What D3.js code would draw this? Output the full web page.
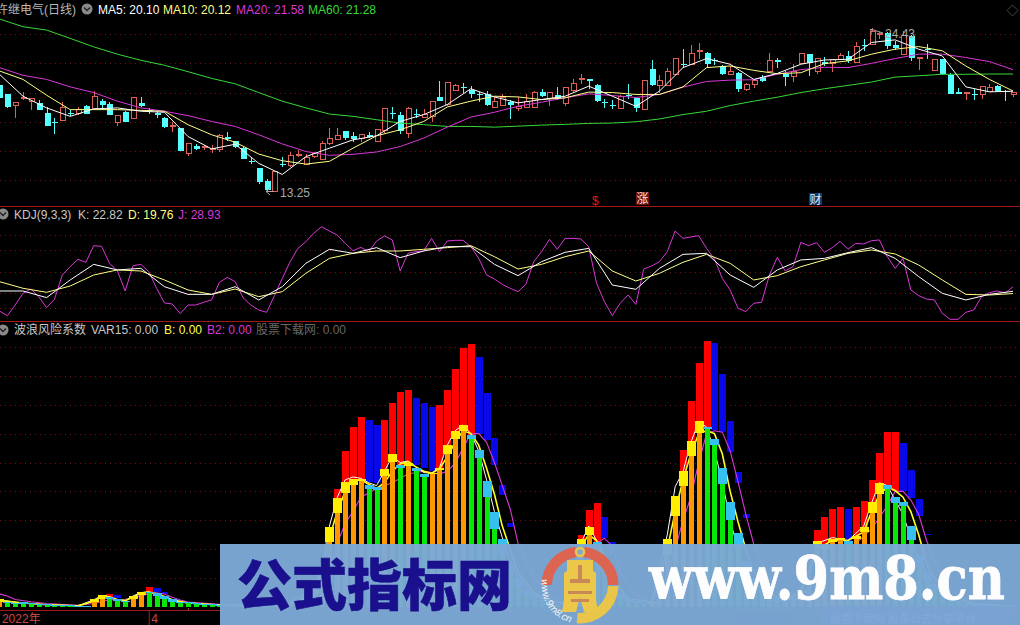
<!DOCTYPE html>
<html>
<head>
<meta charset="utf-8">
<script src="https://cdnjs.cloudflare.com/ajax/libs/d3/7.8.5/d3.min.js"></script>
<style>
html, body { margin: 0; padding: 0; background: #000; overflow: hidden; }
text { font-family: "Liberation Sans", "Noto Sans CJK SC", sans-serif; font-size: 12px; }
</style>
</head>
<body>
<div id="chart"></div>
<script>
// daily candles
var cOpen = [20.50,19.88,19.12,19.62,19.39,19.30,18.61,18.01,18.10,18.63,
18.56,19.12,18.89,19.46,19.23,17.97,18.66,18.24,19.32,18.84,
18.63,18.29,17.71,17.60,15.85,16.36,16.24,16.10,16.08,17.00,
16.66,16.22,15.32,14.81,13.94,13.25,15.11,15.02,15.71,15.11,
15.62,15.44,16.52,16.82,17.39,17.05,16.84,17.12,16.66,17.41,
18.59,18.50,17.23,18.56,18.33,18.38,19.71,19.16,20.17,20.36,
20.20,19.88,19.88,18.98,19.14,19.37,18.91,19.00,18.98,20.06,
19.62,19.85,19.25,20.17,20.89,20.96,20.54,19.37,19.16,18.91,
19.85,19.67,18.84,21.60,20.52,20.52,21.23,21.99,21.90,22.82,
22.75,22.22,21.85,21.28,21.37,20.22,20.54,21.05,21.46,22.22,
21.28,21.09,22.01,22.68,21.44,22.13,21.97,22.29,22.54,22.06,
23.26,23.33,24.02,24.08,23.26,22.64,23.90,22.36,22.96,21.53,
22.29,21.19,20.08,19.92,19.88,19.85,20.11,20.45,20.11,19.88];
var cClose = [19.67,19.02,19.30,19.69,19.58,18.79,17.69,17.97,19.02,18.59,
18.82,18.56,19.71,19.16,18.47,18.47,18.01,19.65,19.12,18.82,
18.47,17.64,17.78,16.01,16.54,16.17,16.29,16.20,17.05,16.86,
16.31,15.48,15.23,13.87,13.32,14.58,15.07,15.69,15.78,15.55,
15.83,16.54,16.89,17.05,16.89,16.86,17.14,17.00,17.51,18.91,
18.54,17.41,18.91,18.52,18.54,19.37,19.46,20.68,20.50,20.31,
19.94,19.83,19.16,19.42,19.65,19.16,19.07,19.37,20.01,19.74,
20.04,19.60,20.33,20.61,21.00,20.80,19.42,19.30,19.12,19.76,
19.74,18.93,20.82,20.50,20.82,21.44,22.34,21.92,22.68,22.89,
21.97,22.18,21.28,21.46,20.22,20.57,20.86,20.80,22.20,22.08,
21.09,21.46,22.68,22.01,22.34,21.97,22.29,22.57,22.18,23.16,
23.21,24.18,24.08,23.19,23.07,23.90,22.38,22.43,22.91,22.29,
21.26,19.94,19.94,20.01,19.83,20.40,20.33,20.11,20.06,20.01];
var cHigh = [20.50,19.88,19.30,20.06,19.58,19.48,19.02,18.27,19.35,18.79,
19.02,19.16,20.15,19.58,19.35,18.47,18.73,19.69,19.71,18.96,
18.73,18.33,17.97,17.60,16.54,16.49,16.45,16.40,17.18,17.32,
16.72,16.26,15.53,14.81,14.08,14.58,15.57,15.97,16.08,15.80,
15.94,16.68,17.57,17.60,17.39,17.32,17.14,17.28,17.51,18.91,
19.02,18.68,19.02,18.91,18.91,19.37,20.77,20.73,20.63,20.68,
20.47,20.04,20.15,19.76,19.94,19.53,19.71,19.94,20.11,20.22,
20.04,20.40,20.40,20.96,21.28,20.96,20.59,19.58,19.53,19.81,
20.63,19.71,20.82,22.22,21.23,21.72,22.34,22.98,23.28,23.39,
22.80,22.41,21.92,21.83,21.42,20.68,20.91,21.23,22.75,22.36,
21.51,21.95,22.68,22.68,22.38,22.47,22.34,22.75,22.84,23.44,
23.67,24.43,24.13,24.13,23.56,24.25,23.95,22.47,23.33,22.34,
22.29,21.37,20.33,20.01,20.22,20.40,20.63,20.56,20.17,20.01];
var cLow = [19.67,18.93,18.24,19.53,18.84,18.79,17.69,17.16,18.10,18.43,
18.45,18.52,18.89,18.84,18.47,17.69,17.97,18.24,19.02,18.56,
18.29,17.60,17.32,16.01,15.67,16.08,16.08,15.90,15.97,16.68,
16.22,15.48,15.11,13.78,13.27,13.25,14.88,14.93,15.57,15.07,
15.53,15.39,16.43,16.77,16.77,16.59,16.63,16.91,16.66,17.23,
18.22,17.18,16.91,18.24,18.24,17.97,19.42,19.12,20.15,20.01,
19.62,19.35,19.07,18.93,19.12,18.22,18.73,18.98,18.93,19.71,
19.12,19.53,19.07,20.08,20.59,20.22,19.35,18.98,18.91,18.89,
19.58,18.66,18.79,20.45,20.01,20.50,21.19,21.76,21.88,22.34,
21.69,21.88,21.23,21.23,20.08,20.13,20.33,20.73,21.42,21.69,
20.45,20.73,21.99,21.14,21.28,21.83,21.42,22.24,22.06,22.01,
22.84,23.28,23.67,22.98,22.93,22.59,22.15,21.55,22.29,21.51,
21.23,19.94,19.90,19.48,19.53,19.60,20.08,20.06,19.42,19.69];

// moving averages, one reading every 3 bars
var maStep = 3;
var ma5 = [21.26,19.76,18.96,18.38,18.89,18.96,18.73,18.66,17.00,16.15,16.47,15.16,14.40,15.62,16.20,
16.77,17.05,18.03,18.50,19.19,20.27,19.71,19.30,19.53,19.76,20.45,19.76,19.07,20.11,21.72,
22.34,21.95,20.91,21.32,21.95,22.24,22.29,23.44,23.62,22.98,22.52,20.40,20.06,20.10];
var ma10 = [21.49,20.91,19.83,18.84,18.84,18.84,18.79,18.73,17.81,17.12,16.61,15.80,15.34,15.11,15.30,
16.20,17.05,17.46,18.03,19.02,19.42,19.76,19.71,19.53,19.65,20.04,20.01,19.88,19.88,20.40,
21.72,21.83,21.53,21.30,21.37,21.99,22.18,22.64,22.98,23.16,22.87,21.83,20.91,20.12];
var ma20 = [21.72,21.19,20.91,20.40,20.01,19.42,18.96,18.73,18.43,18.03,17.69,17.12,16.49,15.97,15.71,
15.78,15.94,16.31,16.89,17.64,18.33,18.66,19.07,19.35,19.65,19.92,19.81,19.67,19.88,20.38,
20.77,20.86,20.89,21.26,21.58,21.74,21.72,22.01,22.34,22.64,22.64,22.41,22.13,21.58];
var ma60 = [25.05,24.52,24.29,23.72,23.14,22.64,22.22,21.88,21.44,20.98,20.61,20.01,19.42,18.96,18.54,
18.38,18.15,17.92,17.81,17.69,17.69,17.64,17.71,17.78,17.83,17.90,17.92,18.01,18.20,18.50,
18.73,19.12,19.42,19.69,20.01,20.27,20.50,20.73,21.07,21.16,21.26,21.26,21.28,21.28];
var priceGrid = [24, 22, 20, 18, 16, 14];

// KDJ panel
var kdjGrid = [0, 20, 50, 80, 100];
var kdjK = [23.3,23.3,14.2,38.4,59.8,52.1,54.3,29.2,18.7,18.7,29.2,11.0,29.2,61.2,80.4,74.9,82.7,69.0,78.1,84.0,84.0,59.8,
44.3,63.5,76.3,81.7,31.5,25.6,54.3,73.5,74.9,45.2,28.3,52.1,65.8,68.0,75.8,82.7,68.0,43.0,20.1,11.0,18.7,22.82];
var kdjD = [36.1,27.0,21.5,30.1,45.2,52.1,50.7,38.4,24.7,18.7,26.0,15.5,22.4,47.5,68.0,74.9,78.1,78.1,80.4,82.7,85.4,70.3,
53.4,59.8,70.3,78.1,50.7,37.0,47.5,62.6,73.5,61.2,38.4,44.3,56.6,65.8,74.9,79.5,74.0,58.9,38.4,18.7,17.8,19.76];
var kdjJ = [-4.1,-10.5,4.1,20.1,26.0,15.5,0.5,11.9,45.2,56.6,66.7,62.6,85.4,84.5,61.2,51.1,23.3,58.0,59.8,49.8,
27.0,6.9,5.5,-7.7,4.1,4.1,7.8,11.0,35.2,42.0,36.1,14.2,4.1,-2.7,-5.9,16.9,40.6,63.5,81.7,90.9,
102.3,111.4,105.5,100.0,88.6,78.5,83.1,77.2,91.8,98.6,93.2,50.7,74.9,77.2,78.1,95.4,77.2,91.8,92.7,92.7,
84.0,68.0,45.2,39.7,32.4,27.0,22.4,32.4,63.5,77.2,94.1,80.4,95.4,95.4,94.5,84.0,33.8,8.7,-10.5,6.4,
17.8,5.0,53.4,57.5,63.5,77.2,105.5,95.4,97.3,99.1,81.7,67.1,40.6,24.7,-0.4,-5.0,6.4,7.8,45.2,69.4,
50.7,56.6,89.9,85.4,89.5,76.3,82.7,91.3,80.4,88.6,87.7,92.2,93.2,70.3,54.3,68.0,24.7,16.9,12.3,11.0,
-7.3,-15.5,-15.5,-5.9,-2.7,15.5,21.0,23.3,20.6,28.93];

// wave risk panel: caps sit on the inner bars, outer bars float behind them
var waveGrid = [10, 20, 30, 40, 50, 60, 70, 80, 90];
var capHigh = [2.6,1.9,1.5,1.6,1.3,1.0,.9,.8,.7,.6,
.5,.4,2.65,4.0,3.34,2.65,2.2,3.9,5.07,5.19,
4.95,3.8,2.65,1.84,1.6,1.3,1.0,.9,.8,.7,
.6,.6,.6,.7,.8,.8,1,1.5,2.5,4,
6,12,27.8,37.7,43.3,44.2,44.2,42.2,41.4,47.8,
52.9,49.1,49.9,48,46,46.3,48.2,55.9,60.8,63,
59.5,54.2,43.6,33,23.5,15,10,6,4,2.5,
1.5,1.2,1.5,12,23.5,27.8,22.6,16,10,5,
3,2,1.5,1.8,12,23.5,38.4,47.1,57.4,64.4,
62.2,58.1,48,36.2,25.6,16,10,6,4,3,
2,3,6,9,22.9,21.6,23.5,23.9,22.8,24.7,
27.7,36.5,42.8,42.2,38.1,36.3,28,18,12,8,
5,3,2,1.4,1,.8,.6,.5,.4,.3];
var capLow = [1.8,1.4,1.2,1.1,1,.8,.7,.6,.5,.4,
.3,.3,1.73,2.9,2.65,1.96,1.6,2.9,4.03,4.73,
3.8,2.65,1.84,1.5,1.27,1.04,.8,.7,.6,.5,
.4,.4,.4,.5,.6,.6,.7,1,1.8,3,
4.5,8,22.4,32.5,39.6,42.2,43.5,40.8,40.5,45.3,
50.2,48,48.9,47.1,45,46.2,47.4,52.9,58.1,60.9,
58,51.4,38.1,27,18,12,7,4,3,1.8,
1,1,1.2,8,21,24.9,20.5,12,7,3,
2,1.5,1,1.2,8,18,31.5,41.9,52.3,60.3,
61.6,56.1,42.6,30.2,20,12,8,5,3,2,
1.6,2.5,5,8,21.8,20,22.5,23.2,21.8,23.5,
25.8,32.5,39.2,40.8,36.1,34.9,23.2,14,9,6,
4,2.5,1.6,1.2,.8,.6,.5,.4,.3,.2];
var capKind = ("y" + "ccccccccccc" + "yy" + "ccc" + "yy" + "ccccccccccc" + "yyyyyyyyyyyyyyyyy" + "cc" + "yy" + "c" + "y" + "cc" +
	"yyyyy" + "cccccccccccc" + "yyyy" + "ccccccc" + "yyyyyyy" + "ccccccccccc" + "yyyyyyy" + "c" + "yyyy" + "ccccccccccccccccc").split("");
var barIdx = [14,15,19,20,21,
43,44,45,46,47,48,49,50,51,52,53,54,55,56,57,58,59,60,61,62,63,64,65,
74,75,76,77,78,
87,88,89,90,91,92,93,94,95,
104,105,106,107,108,109,110,111,112,113,114,115,116,117,118];
var barHigh = [4.5,4.27,6.8,6.46,5.2,
40.8,54,62.3,65.7,64.7,63,64.7,70.5,74.4,75.1,72.4,70.6,69.3,70,75.1,82.4,89.5,91,86.5,74.2,58.6,42.2,29.1,
24.9,33.6,36.1,31.3,22.4,
54.3,71.3,84.4,92,91.4,80.5,64.4,46.8,32.2,
26.6,31.1,33.9,34.6,34,34.6,36.7,43.9,53.4,60.6,60.6,56.9,47.4,37.5,25.3];
var barLow = [3.34,3.0,5.19,5.19,4.5,
37.7,43.3,44.2,44,43.4,42.8,47.8,52.9,49.1,49.9,49.1,48,47.1,48.2,55.9,60.8,63,59.5,60,57.7,49.1,38.8,27.6,
23.5,27.8,22.6,23.8,18,
47.1,57.4,64.4,62,61.2,60.7,53.5,42.8,30.7,
22.9,21.6,23.5,23.9,22.9,24.7,27.7,36.5,42.8,42,40.3,40.3,37.8,31.5,24.9];
var barKind = ("rbrbb" + "rrrrbbrrrrbbbrrrrrbbbbb" + "rrrbb" + "rrrrbbbbb" + "rrrrbrrrrrrbbbb").split("");

var waveWhite = [[0,2.4],[3,1.3],[6,.8],[10,.4],[12,2.5],[13,3.9],[14,3.3],[15,2.5],[16,2.1],[17,3.8],[18,5],[19,5.2],[20,4.5],[21,3.3],[22,2.3],[24,1.3],[28,.6],[36,.7],[40,6],[41,14],[42,28],[43,38],[44,44],[45,45],[46,44.5],[47,43],[48,42],[49,47],[50,52],[51,50],[52,50.5],[53,48.5],[54,46.5],[55,46.3],[56,48.2],[57,56],[58,61],[59,63],[60,60],[61,54],[62,44],[63,33],[64,24],[65,16],[66,10],[68,4],[70,1.6],[72,1.5],[74,22],[75,28],[76,23],[77,16],[78,10],[80,3],[83,1.6],[85,25],[86,41.6],[87,46.8],[88,57],[89,64],[90,62.3],[91,54],[92,43.4],[93,30],[94,20],[95,12],[97,6],[100,2],[103,9],[104,22],[106,24],[108,23],[110,28],[111,36],[112,43],[113,42],[114,37],[115,32],[116,24],[117,17],[118,11],[120,5],[124,1],[129,.3]];
var waveYellow = [[0,2.3],[3,1.4],[6,.8],[10,.4],[12,2],[13,3.6],[14,3.5],[15,2.6],[16,2.2],[17,3.4],[18,4.8],[19,5.2],[20,4.6],[21,3.6],[22,2.5],[24,1.4],[28,.7],[36,.7],[39,3],[41,12],[42,24],[43,33],[44,40],[45,44],[46,44],[47,42.5],[48,41],[49,43],[50,47],[51,49.5],[52,50.3],[53,48.5],[54,47],[55,46.3],[56,47.8],[57,52],[58,57],[59,61],[60,60],[61,56],[62,48],[63,39],[64,28],[65,20],[66,12],[68,5],[70,2],[72,1.3],[73,10],[74,21],[75,25],[76,23],[77,18],[78,10],[80,3],[83,1.6],[84,10],[85,20],[86,33],[87,44],[88,53],[89,60],[90,61],[91,60],[92,53],[93,40],[94,29.5],[95,20],[96,12],[98,5],[100,2],[102,5],[104,20],[106,23],[108,23],[110,26],[111,33],[112,39],[113,41.5],[114,40.3],[115,38],[116,33],[117,25],[118,15],[119,10],[121,4],[124,1],[129,.2]];
var waveMagenta = [[0,4.5],[1,3.8],[2,2.6],[4,1.8],[6,1.2],[10,.6],[12,1.2],[14,2.5],[16,2.7],[18,3.8],[19,4.6],[20,4.9],[21,4.5],[22,3.4],[23,2.4],[24,1.7],[28,.9],[36,.7],[40,4],[42,14],[43,22],[44,29],[45,33],[46,38],[48,41],[50,43],[52,46],[54,47],[56,46],[57,47],[58,49.7],[59,55],[60,60],[61,60],[62,57],[63,50],[64,42],[65,34],[66,22],[68,10],[70,4],[72,1.5],[74,10],[75,16],[76,22],[77,23.8],[78,21],[79,12],[81,4],[83,1.6],[85,10],[86,20],[87,30],[88,38],[89,50],[90,60],[91,61],[92,60.5],[93,54],[94,43.4],[95,32],[96,21.8],[98,10],[100,3],[103,6],[106,18],[109,22],[111,27],[113,35],[114,40],[115,40],[116,37],[117,32],[118,23],[120,10],[122,4],[125,1],[129,.2]];

// time axis
var timeTicks = [0, 19, 24];
var timeLabels = {0: "2022年", 19: "4", 24: ""};

var w = 1020;
var h = 625;
var n = cOpen.length;

var svg = d3.select("#chart")
	.append("svg")
	.attr("width", w)
	.attr("height", h)
	.style("display", "block")
	.style("background", "#000");

var x = d3.scaleLinear().domain([0, 129]).range([-0.55, 1013]);
var yPrice = d3.scaleLinear().domain([14, 24]).range([180.3, 34.3]);
var yKdj = d3.scaleLinear().domain([0, 100]).range([308, 235]);
var yWave = d3.scaleLinear().domain([0, 90]).range([607, 346.9]);

var colors = {up: "#dd5f55", down: "#54ffff", r: "#ff0000", b: "#0808e8",
	y: "#ffee00", c: "#35c0f0", yInner: "#ff9800", cInner: "#08e808",
	ma5: "#ffffff", ma10: "#ffff88", ma20: "#d838d8", ma60: "#38d838",
	line: "#a01818", grid: "#701414"};

function crisp(v) { return Math.round(v); }

function gridLines(levels, scale) {
	svg.append("g").selectAll("line")
		.data(levels)
		.enter()
		.append("line")
		.attr("x1", 0)
		.attr("x2", w)
		.attr("y1", d => crisp(scale(d)) + 0.5)
		.attr("y2", d => crisp(scale(d)) + 0.5)
		.attr("stroke", colors.grid)
		.attr("stroke-dasharray", "1,4");
}
gridLines(priceGrid, yPrice);
gridLines(kdjGrid, yKdj);
gridLines(waveGrid, yWave);

// panel borders
[206.5, 321.5, 610.5].forEach(function(yy) {
	svg.append("line").attr("x1", 0).attr("x2", w).attr("y1", yy).attr("y2", yy)
		.attr("stroke", colors.line);
});

// candles
var candle = svg.append("g").attr("shape-rendering", "crispEdges")
	.selectAll("g")
	.data(d3.range(n))
	.enter()
	.append("g");
candle.append("line")
	.attr("x1", i => crisp(x(i)) + 0.5)
	.attr("x2", i => crisp(x(i)) + 0.5)
	.attr("y1", i => yPrice(cHigh[i]))
	.attr("y2", i => yPrice(cLow[i]))
	.attr("stroke", i => cClose[i] >= cOpen[i] ? colors.up : colors.down);
candle.append("rect")
	.attr("x", i => crisp(x(i)) - 2.5 + (cClose[i] >= cOpen[i] ? 0.5 : 0))
	.attr("width", i => cClose[i] >= cOpen[i] ? 5 : 6)
	.attr("y", i => yPrice(Math.max(cOpen[i], cClose[i])))
	.attr("height", i => Math.max(1, Math.abs(yPrice(cOpen[i]) - yPrice(cClose[i]))))
	.attr("fill", i => cClose[i] >= cOpen[i] ? "#000" : colors.down)
	.attr("stroke", i => cClose[i] >= cOpen[i] ? colors.up : "none");

function stepLine(values, scale, color, step) {
	svg.append("path")
		.datum(values)
		.attr("fill", "none")
		.attr("stroke", color)
		.attr("stroke-width", 1)
		.attr("d", d3.line().x((d, i) => x(i * step)).y(d => scale(d)));
}
stepLine(ma60, yPrice, colors.ma60, maStep);
stepLine(ma20, yPrice, colors.ma20, maStep);
stepLine(ma10, yPrice, colors.ma10, maStep);
stepLine(ma5, yPrice, colors.ma5, maStep);

stepLine(kdjJ, yKdj, colors.ma20, 1);
stepLine(kdjD, yKdj, colors.ma10, maStep);
stepLine(kdjK, yKdj, colors.ma5, maStep);

function waveLine(points, color, width) {
	svg.append("path")
		.datum(points)
		.attr("fill", "none")
		.attr("stroke", color)
		.attr("stroke-width", width)
		.attr("d", d3.line().x(d => x(d[0])).y(d => yWave(d[1])));
}

// wave bars, the three lines run between the outer and the inner bars
svg.append("g").attr("shape-rendering", "crispEdges")
	.selectAll("rect")
	.data(barIdx)
	.enter()
	.append("rect")
	.attr("x", d => crisp(x(d)) - 3.5)
	.attr("width", 7)
	.attr("y", (d, i) => yWave(barHigh[i]))
	.attr("height", (d, i) => yWave(barLow[i]) - yWave(barHigh[i]))
	.attr("fill", (d, i) => colors[barKind[i]]);

waveLine(waveMagenta, colors.ma20, 1.1);
waveLine(waveWhite, "#ffffff", 1);
waveLine(waveYellow, "#ffff20", 1.6);

svg.append("g").attr("shape-rendering", "crispEdges")
	.selectAll("rect")
	.data(d3.range(n))
	.enter()
	.append("rect")
	.attr("x", i => crisp(x(i)) - 2.5)
	.attr("width", 5)
	.attr("y", i => yWave(capLow[i]))
	.attr("height", i => yWave(0) - yWave(capLow[i]))
	.attr("fill", i => colors[capKind[i] + "Inner"]);

svg.append("g").attr("shape-rendering", "crispEdges")
	.selectAll("rect")
	.data(d3.range(n))
	.enter()
	.append("rect")
	.attr("x", i => crisp(x(i)) - 4.5)
	.attr("width", 9)
	.attr("y", i => yWave(capHigh[i]))
	.attr("height", i => Math.max(1, yWave(capLow[i]) - yWave(capHigh[i])))
	.attr("fill", i => colors[capKind[i]]);

// time axis
var axis = svg.append("g")
	.attr("transform", "translate(0,610)")
	.call(d3.axisBottom(x).tickValues(timeTicks).tickSize(0).tickFormat(d => timeLabels[d]));
axis.select(".domain").remove();
axis.selectAll("text")
	.attr("y", 4)
	.attr("dy", "0.71em")
	.attr("fill", "#c84848")
	.attr("text-anchor", "start")
	.attr("dx", 2)
	.style("font-family", "'Liberation Sans','Noto Sans CJK SC',sans-serif")
	.style("font-size", "12px");
axis.selectAll(".tick line")
	.attr("y2", 15)
	.attr("stroke", "#a02020");
axis.selectAll(".tick").filter(d => d == 0).select("line").remove();
axis.selectAll(".tick").filter(d => d == 24).select("line").attr("y2", -2).attr("stroke", "#c84848");

// legends
function chevron(cx, cy) {
	svg.append("circle").attr("cx", cx).attr("cy", cy).attr("r", 5.5).attr("fill", "#8a8a8a");
	svg.append("path")
		.attr("d", "M" + (cx - 3) + "," + (cy - 1.5) + "L" + cx + "," + (cy + 1.5) + "L" + (cx + 3) + "," + (cy - 1.5))
		.attr("fill", "none").attr("stroke", "#222").attr("stroke-width", 1.4);
}
function label(tx, ty, s, color) {
	svg.append("text").attr("x", tx).attr("y", ty).attr("fill", color).text(s);
}
label(-4, 14, "许继电气(日线)", "#b8b8b8");
chevron(87, 9);
label(98, 14, "MA5: 20.10", colors.ma5);
label(163, 14, "MA10: 20.12", colors.ma10);
label(236, 14, "MA20: 21.58", colors.ma20);
label(308, 14, "MA60: 21.28", colors.ma60);
chevron(3, 214);
label(14, 219, "KDJ(9,3,3)", "#c8c8c8");
label(78, 219, "K: 22.82", "#c8c8c8");
label(128, 219, "D: 19.76", colors.ma10);
label(178, 219, "J: 28.93", colors.ma20);
chevron(3, 330);
label(14, 334, "波浪风险系数", "#c8c8c8");
label(91, 334, "VAR15: 0.00", "#c8c8c8");
label(164, 334, "B: 0.00", "#ffff50");
label(207, 334, "B2: 0.00", colors.ma20);
label(256, 334, "股票下载网: 0.00", "#666");

// high and low notes
label(280, 197, "13.25", "#a8a8a8");
label(885, 38, "24.43", "#a8a8a8");
svg.append("path").attr("d", "M274,191.5H266L270,188M266,191.5L270,195").attr("fill", "none").attr("stroke", "#a8a8a8");
svg.append("path").attr("d", "M883,33L872,29.5H870M871,29V35").attr("fill", "none").attr("stroke", "#a8a8a8");

// event markers
label(592, 205, "$", "#e01818");
svg.append("rect").attr("x", 636).attr("y", 192).attr("width", 13).attr("height", 13).attr("fill", "#701010");
svg.append("rect").attr("x", 809).attr("y", 193).attr("width", 13).attr("height", 12).attr("fill", "#103868");
label(636.5, 203, "涨", "#f0e0e0");
label(809.5, 204, "财", "#e0e8f0");
svg.append("path").attr("d", "M1012.5,5L1018,10.5L1012.5,16L1007,10.5Z").attr("fill", "none").attr("stroke", "#444");

// banner over the bottom of the picture
var banner = svg.append("g");
banner.append("rect").attr("x", 220).attr("y", 544).attr("width", 800).attr("height", 81)
	.attr("fill", "#7da8d6").attr("opacity", 0.97);
banner.append("rect").attr("x", 820).attr("y", 606).attr("width", 193).attr("height", 17)
	.attr("fill", "#7aa3d3");
banner.append("text").attr("x", 735).attr("y", 623).attr("fill", "#779ecd").style("font-size", "11px").text("2022/07/25/一");
banner.append("text").attr("x", 830).attr("y", 623).attr("fill", "#82aadb").style("font-size", "11px").text("股票下载网  股票公式分享平台");
banner.append("text")
	.attr("x", 237).attr("y", 605)
	.attr("textLength", 275)
	.attr("lengthAdjust", "spacingAndGlyphs")
	.attr("fill", "#1a0f8c")
	.attr("stroke", "#1a0f8c")
	.attr("stroke-width", 0.6)
	.style("font-family", "'Noto Sans CJK SC',sans-serif")
	.style("font-size", "55px")
	.style("font-weight", 900)
	.text("公式指标网");
var site = banner.append("text")
	.attr("fill", "#fdfdfd")
	.attr("stroke", "#fdfdfd")
	.attr("stroke-width", 0.8)
	.style("font-family", "'DejaVu Serif',serif")
	.style("font-size", "60px")
	.style("font-weight", 700)
	.text("www.9m8.cn");
site.attr("transform", "translate(649,599) scale(" + (356 / site.node().getComputedTextLength()) + ",1)");

// logo
var logo = banner.append("g").attr("transform", "translate(580,585)");
var ring = d3.arc().innerRadius(28).outerRadius(38.5);
var deg = Math.PI / 180;
logo.append("path").attr("d", ring({startAngle: -90 * deg, endAngle: -7 * deg})).attr("fill", "#dc6450");
logo.append("path").attr("d", ring({startAngle: 7 * deg, endAngle: 90 * deg})).attr("fill", "#dc6450");
logo.append("path").attr("d", ring({startAngle: 92 * deg, endAngle: 185 * deg})).attr("fill", "#e9c64a");
logo.append("path")
	.attr("d", "M-13,-25H13V-14L16,-12V15L18,27H4L0,12L-4,27H-18L-16,15V-12L-13,-14Z")
	.attr("fill", "#ecc84a");
logo.append("circle").attr("cy", -33).attr("r", 4).attr("fill", "none").attr("stroke", "#e9c64a").attr("stroke-width", 2.5);
logo.append("path").attr("d", "M-10,-6H10V-2H-10ZM-2,-20H2V-6H-2ZM-12,6H12V9H-12ZM-9,14H9V17H-9Z").attr("fill", "#c88858");
logo.append("path").attr("id", "logoArc").attr("d", "M-38,-6A38.5,38.5 0 0 0 -4,38.3").attr("fill", "none");
logo.append("text").attr("fill", "#f4f4f4").style("font-size", "10px").style("font-style", "italic")
	.append("textPath").attr("href", "#logoArc").text("www.9m8.cn");
</script>
</body>
</html>
